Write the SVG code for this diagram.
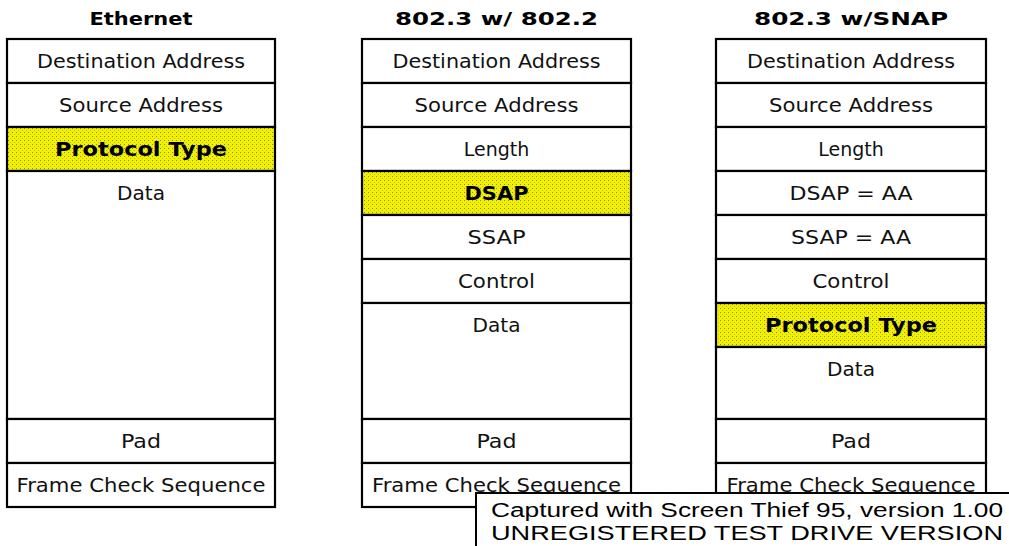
<svg xmlns="http://www.w3.org/2000/svg" width="1009" height="546" viewBox="0 0 1009 546">
  <defs>
    <!-- dithered yellow used to highlight the protocol-type fields -->
    <pattern id="dither" width="4" height="4" patternUnits="userSpaceOnUse">
      <rect width="4" height="4" fill="#f2f200"/>
      <rect x="0" y="0" width="1" height="1" fill="#808050"/>
      <rect x="2" y="2" width="1" height="1" fill="#b8b840"/>
    </pattern>
  </defs>
  <style>
    .cell { fill: #ffffff; stroke: #000000; stroke-width: 2.2; }
    .hl { fill: url(#dither); stroke: #000000; stroke-width: 2.2; }
    .lbl { font-family: "DejaVu Sans", "Liberation Sans", sans-serif; font-size: 19px; fill: #111111; text-anchor: middle; }
    .bold { font-family: "DejaVu Sans", "Liberation Sans", sans-serif; font-size: 19px; font-weight: bold; fill: #000000; text-anchor: middle; }
    .title { font-family: "DejaVu Sans", "Liberation Sans", sans-serif; font-size: 17px; font-weight: bold; fill: #000000; text-anchor: middle; }
    .wm { font-family: "Liberation Sans", Arial, sans-serif; font-size: 20px; fill: #000000; }
  </style>
  <rect width="1009" height="546" fill="#ffffff"/>

  <!-- Ethernet frame -->
  <g id="ethernet">
    <text class="title" x="141" y="25" textLength="103" lengthAdjust="spacingAndGlyphs">Ethernet</text>
    <g id="eth-dest"><rect class="cell" x="7" y="39" width="268" height="44"/><text class="lbl" x="141" y="68" textLength="208" lengthAdjust="spacingAndGlyphs">Destination Address</text></g>
    <g id="eth-src"><rect class="cell" x="7" y="83" width="268" height="44"/><text class="lbl" x="141" y="112" textLength="164" lengthAdjust="spacingAndGlyphs">Source Address</text></g>
    <g id="eth-type"><rect class="hl" x="7" y="127" width="268" height="44"/><text class="bold" x="141" y="156" textLength="172" lengthAdjust="spacingAndGlyphs">Protocol Type</text></g>
    <g id="eth-data"><rect class="cell" x="7" y="171" width="268" height="248"/><text class="lbl" x="141" y="200" textLength="48" lengthAdjust="spacingAndGlyphs">Data</text></g>
    <g id="eth-pad"><rect class="cell" x="7" y="419" width="268" height="44"/><text class="lbl" x="141" y="448" textLength="40" lengthAdjust="spacingAndGlyphs">Pad</text></g>
    <g id="eth-fcs"><rect class="cell" x="7" y="463" width="268" height="44"/><text class="lbl" x="141" y="492" textLength="249" lengthAdjust="spacingAndGlyphs">Frame Check Sequence</text></g>
  </g>

  <!-- 802.3 frame with 802.2 LLC header -->
  <g id="llc">
    <text class="title" x="496.5" y="25" textLength="203" lengthAdjust="spacingAndGlyphs">802.3 w/ 802.2</text>
    <g id="llc-dest"><rect class="cell" x="362" y="39" width="269" height="44"/><text class="lbl" x="496.5" y="68" textLength="208" lengthAdjust="spacingAndGlyphs">Destination Address</text></g>
    <g id="llc-src"><rect class="cell" x="362" y="83" width="269" height="44"/><text class="lbl" x="496.5" y="112" textLength="164" lengthAdjust="spacingAndGlyphs">Source Address</text></g>
    <g id="llc-len"><rect class="cell" x="362" y="127" width="269" height="44"/><text class="lbl" x="496.5" y="156">Length</text></g>
    <g id="llc-dsap"><rect class="hl" x="362" y="171" width="269" height="44"/><text class="bold" x="496.5" y="200" textLength="64" lengthAdjust="spacingAndGlyphs">DSAP</text></g>
    <g id="llc-ssap"><rect class="cell" x="362" y="215" width="269" height="44"/><text class="lbl" x="496.5" y="244" textLength="58" lengthAdjust="spacingAndGlyphs">SSAP</text></g>
    <g id="llc-ctrl"><rect class="cell" x="362" y="259" width="269" height="44"/><text class="lbl" x="496.5" y="288" textLength="77" lengthAdjust="spacingAndGlyphs">Control</text></g>
    <g id="llc-data"><rect class="cell" x="362" y="303" width="269" height="116"/><text class="lbl" x="496.5" y="332" textLength="48" lengthAdjust="spacingAndGlyphs">Data</text></g>
    <g id="llc-pad"><rect class="cell" x="362" y="419" width="269" height="44"/><text class="lbl" x="496.5" y="448" textLength="40" lengthAdjust="spacingAndGlyphs">Pad</text></g>
    <g id="llc-fcs"><rect class="cell" x="362" y="463" width="269" height="44"/><text class="lbl" x="496.5" y="492" textLength="249" lengthAdjust="spacingAndGlyphs">Frame Check Sequence</text></g>
  </g>

  <!-- 802.3 frame with SNAP header -->
  <g id="snap">
    <text class="title" x="851" y="25" textLength="194" lengthAdjust="spacingAndGlyphs">802.3 w/SNAP</text>
    <g id="snap-dest"><rect class="cell" x="716" y="39" width="270" height="44"/><text class="lbl" x="851" y="68" textLength="208" lengthAdjust="spacingAndGlyphs">Destination Address</text></g>
    <g id="snap-src"><rect class="cell" x="716" y="83" width="270" height="44"/><text class="lbl" x="851" y="112" textLength="164" lengthAdjust="spacingAndGlyphs">Source Address</text></g>
    <g id="snap-len"><rect class="cell" x="716" y="127" width="270" height="44"/><text class="lbl" x="851" y="156">Length</text></g>
    <g id="snap-dsap"><rect class="cell" x="716" y="171" width="270" height="44"/><text class="lbl" x="851" y="200" textLength="123" lengthAdjust="spacingAndGlyphs">DSAP = AA</text></g>
    <g id="snap-ssap"><rect class="cell" x="716" y="215" width="270" height="44"/><text class="lbl" x="851" y="244" textLength="120" lengthAdjust="spacingAndGlyphs">SSAP = AA</text></g>
    <g id="snap-ctrl"><rect class="cell" x="716" y="259" width="270" height="44"/><text class="lbl" x="851" y="288" textLength="77" lengthAdjust="spacingAndGlyphs">Control</text></g>
    <g id="snap-type"><rect class="hl" x="716" y="303" width="270" height="44"/><text class="bold" x="851" y="332" textLength="172" lengthAdjust="spacingAndGlyphs">Protocol Type</text></g>
    <g id="snap-data"><rect class="cell" x="716" y="347" width="270" height="72"/><text class="lbl" x="851" y="376" textLength="48" lengthAdjust="spacingAndGlyphs">Data</text></g>
    <g id="snap-pad"><rect class="cell" x="716" y="419" width="270" height="44"/><text class="lbl" x="851" y="448" textLength="40" lengthAdjust="spacingAndGlyphs">Pad</text></g>
    <g id="snap-fcs"><rect class="cell" x="716" y="463" width="270" height="44"/><text class="lbl" x="851" y="492" textLength="249" lengthAdjust="spacingAndGlyphs">Frame Check Sequence</text></g>
  </g>

  <!-- capture-utility banner in the lower right corner -->
  <g id="banner">
    <rect x="476" y="493" width="540" height="60" fill="#ffffff" stroke="#000000" stroke-width="2"/>
    <text class="wm" x="491" y="517" textLength="512" lengthAdjust="spacingAndGlyphs">Captured with Screen Thief 95, version 1.00</text>
    <text class="wm" x="491" y="540" textLength="512" lengthAdjust="spacingAndGlyphs">UNREGISTERED TEST DRIVE VERSION</text>
  </g>
</svg>
